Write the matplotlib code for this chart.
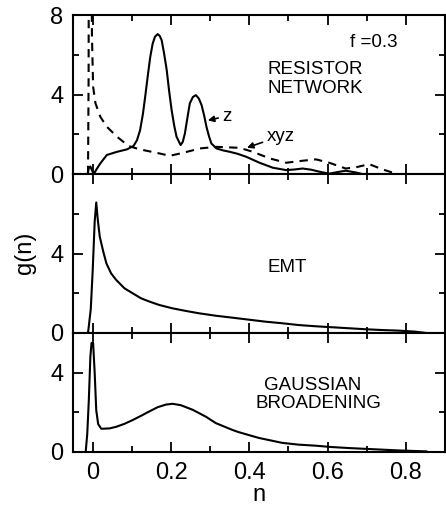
import matplotlib
matplotlib.use("Agg")
import matplotlib.pyplot as plt
from matplotlib.ticker import MultipleLocator, FixedLocator

plt.rcParams['font.family'] = ['Liberation Sans', 'DejaVu Sans']

# ---- data ----
z_n = [-0.013, -0.010, -0.006, -0.002, 0.0025, 0.010, 0.0195, 0.036, 0.062, 0.087,
       0.104, 0.113, 0.121, 0.128, 0.134, 0.141, 0.147, 0.153, 0.159, 0.166,
       0.171, 0.176, 0.182, 0.189, 0.195, 0.2015, 0.208, 0.214, 0.2245, 0.230,
       0.2355, 0.242, 0.248, 0.256, 0.2635, 0.271, 0.278, 0.2845, 0.2905, 0.297,
       0.303, 0.316, 0.333, 0.350, 0.370, 0.392, 0.426, 0.460, 0.494, 0.515,
       0.536, 0.558, 0.579, 0.604, 0.625, 0.646, 0.672, 0.689]
z_g = [0.0, 0.30, 0.38, 0.20, 0.0, 0.25, 0.54, 0.96, 1.12, 1.24,
       1.41, 1.70, 2.21, 3.00, 3.89, 5.00, 5.90, 6.55, 6.91, 7.04,
       6.95, 6.74, 6.10, 5.23, 4.20, 3.22, 2.45, 1.88, 1.46, 1.62,
       2.05, 2.85, 3.56, 3.88, 3.97, 3.80, 3.47, 2.95, 2.38, 1.90,
       1.54, 1.29, 1.19, 1.12, 1.02, 0.87, 0.57, 0.32, 0.20, 0.23,
       0.28, 0.22, 0.12, 0.02, 0.10, 0.17, 0.08, 0.0]

xyz_n = [-0.012, -0.0105, -0.010, -0.003, -0.002, 0.001, 0.007, 0.0195, 0.036, 0.062,
         0.0915, 0.121, 0.163, 0.197, 0.231, 0.274, 0.316, 0.375, 0.409, 0.4515,
         0.494, 0.536, 0.570, 0.604, 0.646, 0.672, 0.706, 0.7395, 0.773]
xyz_g = [0.0, 5.0, 12.0, 12.0, 7.0, 4.40, 3.56, 2.88, 2.38, 1.88,
         1.41, 1.24, 1.07, 0.92, 1.07, 1.29, 1.37, 1.32, 1.12, 0.79,
         0.57, 0.67, 0.74, 0.57, 0.28, 0.34, 0.50, 0.24, 0.03]

emt_n = [-0.012, -0.005, 0.000, 0.005, 0.009, 0.013, 0.018, 0.027, 0.035, 0.047,
         0.060, 0.081, 0.102, 0.123, 0.145, 0.170, 0.204, 0.238, 0.272, 0.314,
         0.357, 0.399, 0.441, 0.484, 0.526, 0.568, 0.610, 0.653, 0.695, 0.737,
         0.780, 0.822, 0.852]
emt_g = [0.0, 1.20, 3.17, 5.60, 6.57, 5.69, 4.85, 4.09, 3.50, 3.00,
         2.67, 2.25, 2.00, 1.75, 1.58, 1.41, 1.24, 1.11, 0.99, 0.87,
         0.77, 0.67, 0.57, 0.49, 0.40, 0.34, 0.29, 0.24, 0.19, 0.15,
         0.12, 0.07, 0.0]

gb_n = [-0.018, -0.014, -0.010, -0.006, -0.003, 0.001, 0.005, 0.009, 0.014, 0.022,
        0.043, 0.060, 0.081, 0.102, 0.123, 0.145, 0.166, 0.187, 0.204, 0.225,
        0.255, 0.289, 0.314, 0.357, 0.373, 0.424, 0.484, 0.526, 0.568, 0.610,
        0.653, 0.695, 0.737, 0.780, 0.852]
gb_g = [0.0, 0.9, 2.6, 4.8, 5.50, 5.50, 4.00, 2.10, 1.40, 1.17,
        1.19, 1.27, 1.42, 1.61, 1.82, 2.05, 2.26, 2.39, 2.43, 2.36,
        2.13, 1.78, 1.46, 1.11, 1.00, 0.71, 0.46, 0.37, 0.32, 0.25,
        0.20, 0.16, 0.12, 0.08, 0.03]

x_ticks = [0, 0.2, 0.4, 0.6, 0.8]
x_ticklabels = ['0', '0.2', '0.4', '0.6', '0.8']

fig = plt.figure(figsize=(4.46, 5.09), dpi=100)
left, width = 0.164, 0.834
ax1 = fig.add_axes([left, 0.658, width, 0.3125])
ax2 = fig.add_axes([left, 0.3458, width, 0.3122])
ax3 = fig.add_axes([left, 0.112, width, 0.2338])

lw = 1.5
fs_tick = 17
fs_txt = 13.5

for ax in (ax1, ax2, ax3):
    ax.set_xlim(-0.05, 0.9)
    ax.xaxis.set_major_locator(FixedLocator(x_ticks))
    ax.xaxis.set_minor_locator(MultipleLocator(0.1))
    ax.tick_params(which='both', direction='in', top=True, right=True,
                   width=1.3, labelsize=fs_tick, pad=7)
    ax.tick_params(which='major', length=7)
    ax.tick_params(which='minor', length=4)
    for s in ax.spines.values():
        s.set_linewidth(1.5)

ax1.set_xticklabels([])
ax2.set_xticklabels([])
ax3.set_xticklabels(x_ticklabels)

ax1.set_ylim(0, 8)
ax1.set_yticks([0, 4, 8])
ax1.yaxis.set_minor_locator(FixedLocator([2, 6]))

ax2.set_ylim(0, 8)
ax2.set_yticks([0, 4])
ax2.yaxis.set_minor_locator(FixedLocator([2, 6]))

ax3.set_ylim(0, 6)
ax3.set_yticks([0, 4])
ax3.yaxis.set_minor_locator(FixedLocator([2]))

ax1.plot(z_n, z_g, color='black', lw=lw, solid_joinstyle='round')
ax1.plot(xyz_n, xyz_g, color='black', lw=lw, ls=(0, (4, 3)))
ax2.plot(emt_n, emt_g, color='black', lw=lw, solid_joinstyle='round')
ax3.plot(gb_n, gb_g, color='black', lw=lw, solid_joinstyle='round')

ax1.text(0.719, 6.62, 'f =0.3', fontsize=fs_txt, ha='center', va='center')
ax1.text(0.447, 5.28, 'RESISTOR', fontsize=fs_txt, ha='left', va='center')
ax1.text(0.447, 4.28, 'NETWORK', fontsize=fs_txt, ha='left', va='center')
ax1.annotate('z', xy=(0.294, 2.70), xytext=(0.343, 2.92), fontsize=fs_txt,
             ha='center', va='center',
             arrowprops=dict(arrowstyle='-|>', color='black', lw=1.2,
                             mutation_scale=9, shrinkA=1, shrinkB=0))
ax1.annotate('xyz', xy=(0.394, 1.33), xytext=(0.480, 1.91), fontsize=fs_txt,
             ha='center', va='center',
             arrowprops=dict(arrowstyle='-|>', color='black', lw=1.2,
                             mutation_scale=9, shrinkA=1, shrinkB=0))

ax2.text(0.496, 3.32, 'EMT', fontsize=fs_txt, ha='center', va='center')
ax3.text(0.562, 3.37, 'GAUSSIAN', fontsize=fs_txt, ha='center', va='center')
ax3.text(0.577, 2.44, 'BROADENING', fontsize=fs_txt, ha='center', va='center')

ax3.set_xlabel('n', fontsize=fs_tick, labelpad=0)
fig.text(0.056, 0.503, 'g(n)', fontsize=fs_tick, rotation=90,
         ha='center', va='center')

fig.savefig('out.png', dpi=100)
